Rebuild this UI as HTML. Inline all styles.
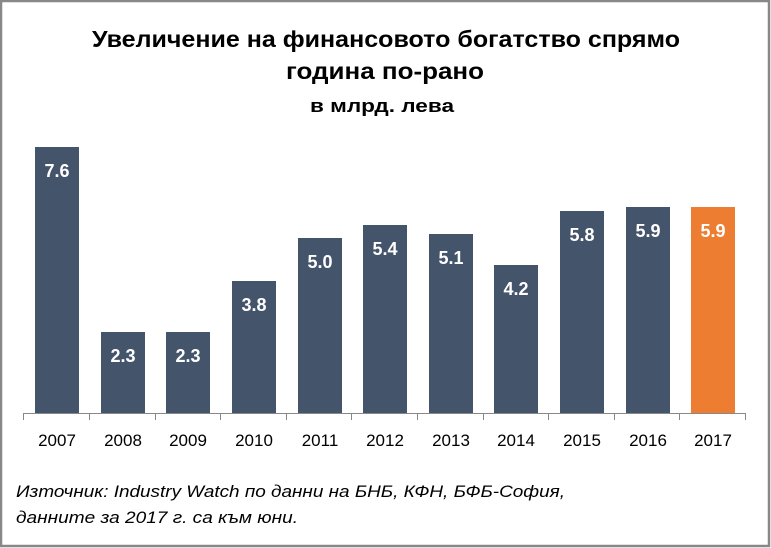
<!DOCTYPE html>
<html><head><meta charset="utf-8"><style>
html,body{margin:0;padding:0;background:#fff}
svg{display:block}
text{font-family:"Liberation Sans",sans-serif}
</style></head><body>
<svg width="771" height="548" xmlns="http://www.w3.org/2000/svg">
<rect x="1" y="1" width="768" height="545" fill="#fff" stroke="#888" stroke-width="2.5"/>
<g font-weight="bold" fill="#000">
<text x="92" y="47" font-size="23" textLength="588" lengthAdjust="spacingAndGlyphs">Увеличение на финансовото богатство спрямо</text>
<text x="286" y="79" font-size="23" textLength="198" lengthAdjust="spacingAndGlyphs">година по-рано</text>
<text x="310" y="112" font-size="18" textLength="144" lengthAdjust="spacingAndGlyphs">в млрд. лева</text>
</g>
<g fill="#44546a">
<rect x="35" y="147" width="44" height="266"/>
<rect x="101" y="332" width="44" height="81"/>
<rect x="166" y="332" width="44" height="81"/>
<rect x="232" y="281" width="44" height="132"/>
<rect x="298" y="238" width="44" height="175"/>
<rect x="363" y="225" width="44" height="188"/>
<rect x="429" y="234" width="44" height="179"/>
<rect x="494" y="265" width="44" height="148"/>
<rect x="560" y="211" width="44" height="202"/>
<rect x="626" y="207" width="44" height="206"/>
</g>
<rect x="691" y="207" width="44" height="206" fill="#ed7d31"/>
<g text-anchor="middle" font-weight="bold" fill="#fff" font-size="18">
<text x="57" y="177">7.6</text>
<text x="123" y="362">2.3</text>
<text x="188" y="362">2.3</text>
<text x="254" y="311">3.8</text>
<text x="320" y="268">5.0</text>
<text x="385" y="255">5.4</text>
<text x="451" y="264">5.1</text>
<text x="516" y="295">4.2</text>
<text x="582" y="241">5.8</text>
<text x="648" y="237">5.9</text>
<text x="713" y="237">5.9</text>
</g>
<g stroke="#888" stroke-width="1">
<line x1="23.5" y1="413.5" x2="746" y2="413.5"/>
<line x1="23.5" y1="413" x2="23.5" y2="420"/>
<line x1="89.5" y1="413" x2="89.5" y2="420"/>
<line x1="155.5" y1="413" x2="155.5" y2="420"/>
<line x1="220.5" y1="413" x2="220.5" y2="420"/>
<line x1="286.5" y1="413" x2="286.5" y2="420"/>
<line x1="351.5" y1="413" x2="351.5" y2="420"/>
<line x1="417.5" y1="413" x2="417.5" y2="420"/>
<line x1="483.5" y1="413" x2="483.5" y2="420"/>
<line x1="548.5" y1="413" x2="548.5" y2="420"/>
<line x1="614.5" y1="413" x2="614.5" y2="420"/>
<line x1="679.5" y1="413" x2="679.5" y2="420"/>
<line x1="745.5" y1="413" x2="745.5" y2="420"/>
</g>
<g text-anchor="middle" fill="#000" font-size="17">
<text x="57" y="446">2007</text>
<text x="123" y="446">2008</text>
<text x="188" y="446">2009</text>
<text x="254" y="446">2010</text>
<text x="320" y="446">2011</text>
<text x="385" y="446">2012</text>
<text x="451" y="446">2013</text>
<text x="516" y="446">2014</text>
<text x="582" y="446">2015</text>
<text x="648" y="446">2016</text>
<text x="713" y="446">2017</text>
</g>
<g font-style="italic" font-size="17" fill="#000">
<text x="16" y="497" textLength="549" lengthAdjust="spacingAndGlyphs">Източник: Industry Watch по данни на БНБ, КФН, БФБ-София,</text>
<text x="16" y="523" textLength="282" lengthAdjust="spacingAndGlyphs">данните за 2017 г. са към юни.</text>
</g>
</svg>
</body></html>
